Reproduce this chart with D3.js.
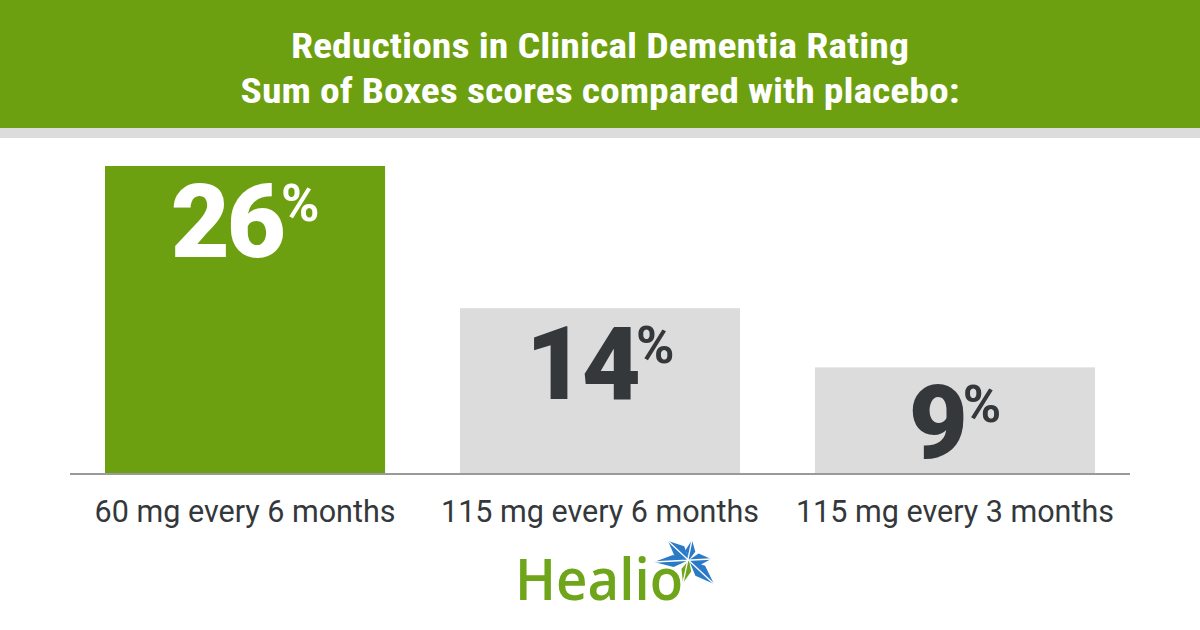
<!DOCTYPE html>
<html>
<head>
<meta charset="utf-8">
<script src="https://cdn.jsdelivr.net/npm/d3@7"></script>
<style>
  html, body { margin: 0; padding: 0; background: #fff; }
  svg { display: block; }
</style>
</head>
<body>
<svg id="chart" width="1200" height="630"></svg>
<script>
const titleLines = ["Reductions in Clinical Dementia Rating", "Sum of Boxes scores compared with placebo:"];
const categories = ["60 mg every 6 months", "115 mg every 6 months", "115 mg every 3 months"];
const values = [26, 14, 9];
const highlight = [true, false, false];

const W = 1200, H = 630;
const GREEN = "#6ca010", GREY = "#dcdcdc", DARK = "#34383b";
const svg = d3.select("#chart");

// header
svg.append("rect").attr("x", 0).attr("y", 0).attr("width", W).attr("height", 128).attr("fill", GREEN);
svg.append("rect").attr("x", 0).attr("y", 128).attr("width", W).attr("height", 10).attr("fill", GREY);
const titleWidths = [618, 719];
const titleBase = [58, 103];
titleLines.forEach((t, i) => {
  svg.append("text")
    .attr("x", W / 2).attr("y", titleBase[i])
    .attr("text-anchor", "middle")
    .attr("font-family", "'Roboto Condensed', 'Liberation Sans Narrow', Roboto, sans-serif")
    .attr("font-weight", 700).attr("font-size", 35)
    .attr("fill", "#fff")
    .attr("textLength", titleWidths[i]).attr("lengthAdjust", "spacingAndGlyphs")
    .text(t);
});

// scales
const x = d3.scaleBand().domain(categories).range([70, 1130]).paddingInner(0.211).paddingOuter(0.0986);
const y = d3.scaleLinear().domain([0, 26]).range([474, 166]);

// bars
svg.append("g").selectAll("rect").data(values).join("rect")
  .attr("x", (d, i) => x(categories[i]))
  .attr("y", d => y(d))
  .attr("width", x.bandwidth())
  .attr("height", d => y(0) - y(d))
  .attr("fill", (d, i) => highlight[i] ? GREEN : GREY);

// baseline
svg.append("line").attr("x1", 70).attr("x2", 1130).attr("y1", y(0)).attr("y2", y(0))
  .attr("stroke", "#9a9a9a").attr("stroke-width", 2);

// value labels
const vl = svg.append("g").selectAll("text").data(values).join("text")
  .attr("x", (d, i) => x(categories[i]) + x.bandwidth() / 2)
  .attr("y", d => y(d) + 91)
  .attr("text-anchor", "middle")
  .attr("font-family", "Roboto, sans-serif")
  .attr("fill", (d, i) => highlight[i] ? "#fff" : DARK);
vl.append("tspan")
  .attr("font-size", 102).attr("font-weight", 900).attr("letter-spacing", -3)
  .text(d => d);
vl.append("tspan")
  .attr("font-size", 52).attr("font-weight", 700).attr("dy", -36).attr("dx", -2)
  .text("%");

// category labels
svg.append("g").selectAll("text").data(categories).join("text")
  .attr("x", d => x(d) + x.bandwidth() / 2)
  .attr("y", 522)
  .attr("text-anchor", "middle")
  .attr("font-family", "Roboto, sans-serif")
  .attr("font-size", 30.5)
  .attr("fill", DARK)
  .text(d => d);

// Healio logo
const logo = svg.append("g");
logo.append("text")
  .attr("x", 515).attr("y", 600)
  .attr("font-family", "'Open Sans', sans-serif")
  .attr("font-size", 58).attr("font-weight", 600)
  .attr("fill", "#6ea51a")
  .attr("textLength", 168).attr("lengthAdjust", "spacingAndGlyphs")
  .text("Healio");
const cx = 689, cy = 560;
function blade(tip, w, f) {
  const dx = tip[0] - cx, dy = tip[1] - cy, L = Math.hypot(dx, dy);
  const nx = -dy / L, ny = dx / L;
  const bx = cx + dx * f, by = cy + dy * f;
  return `M${cx},${cy}L${bx + nx * w},${by + ny * w}L${tip[0]},${tip[1]}L${bx - nx * w},${by - ny * w}Z`;
}
const blueBlades = [[[668, 541], 7], [[654, 562], 6], [[692, 540], 5], [[711, 559], 6], [[714, 584], 7]];
logo.selectAll("path.blade").data(blueBlades).join("path")
  .attr("class", "blade")
  .attr("d", d => blade(d[0], d[1], 0.45))
  .attr("fill", "#2a7ac8");
logo.append("path").attr("d", blade([683, 583], 5, 0.45)).attr("fill", "#6ea51a");
logo.append("path")
  .attr("d", `M668,541L714,584M654,562L711,559M692,540L683,583`)
  .attr("stroke", "#fff").attr("stroke-width", 1.3).attr("fill", "none");
</script>
</body>
</html>
